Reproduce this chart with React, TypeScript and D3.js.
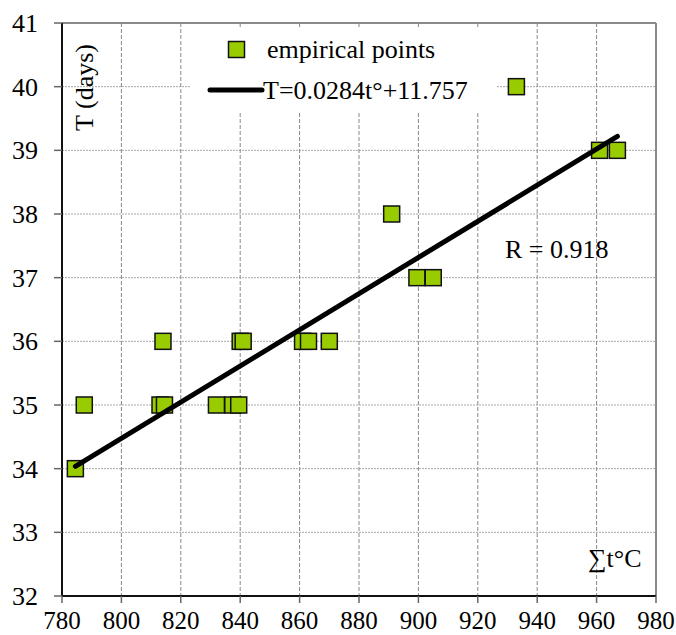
import React from 'react';
import * as d3 from 'd3';

// sum of temperatures (x) and duration in days (T)
const sumTemps = [784.5, 787.5, 813, 814.5, 814, 832, 837.5, 839.5, 840, 841, 861, 863, 870, 891, 899.5, 905, 933, 961, 967];
const days = [34, 35, 35, 35, 36, 35, 35, 35, 36, 36, 36, 36, 36, 38, 37, 37, 40, 39, 39];
const xTicks = [780, 800, 820, 840, 860, 880, 900, 920, 940, 960, 980];
const yTicks = [32, 33, 34, 35, 36, 37, 38, 39, 40, 41];
const slope = 0.0284;
const intercept = 11.757;

const W = 676;
const H = 635;
const FONT = "'Liberation Serif', 'Times New Roman', Times, serif";

function App() {
  const x = d3.scaleLinear().domain([780, 980]).range([62, 656]);
  const y = d3.scaleLinear().domain([32, 41]).range([596, 23]);

  const [x0, x1] = d3.extent(sumTemps) as [number, number];
  const trend = d3.line<number>()
    .x(v => x(v))
    .y(v => y(slope * v + intercept));

  const points = sumTemps.map((v, i) => ({ t: v, d: days[i] }));
  const sq = 16;

  return (
    <svg width={W} height={H} style={{ position: 'absolute', left: 0, top: 0, fontFamily: FONT }}>
      <rect width={W} height={H} fill="white" />

      {/* grid */}
      {yTicks.slice(1, -1).map(t => (
        <line key={'hy' + t} x1={x(780)} x2={x(980)} y1={y(t)} y2={y(t)}
          stroke="#a8a8a8" strokeWidth={1} strokeDasharray="2,1" />
      ))}
      {xTicks.slice(1, -1).map(t => (
        <line key={'vx' + t} x1={x(t)} x2={x(t)} y1={y(41)} y2={y(32)}
          stroke="#888" strokeWidth={1} strokeDasharray="4,2" />
      ))}

      {/* frame */}
      <line x1={x(780)} x2={x(980)} y1={y(41)} y2={y(41)} stroke="#8a8a8a" strokeWidth={2} />
      <line x1={x(980)} x2={x(980)} y1={y(41)} y2={y(32)} stroke="#8a8a8a" strokeWidth={2} />
      <line x1={x(780)} x2={x(780)} y1={y(41)} y2={y(32)} stroke="#111" strokeWidth={2} />
      <line x1={x(780)} x2={x(980)} y1={y(32)} y2={y(32)} stroke="#111" strokeWidth={2} />

      {/* ticks + labels */}
      {yTicks.map(t => (
        <g key={'yt' + t}>
          <line x1={x(780) - 8} x2={x(780)} y1={y(t)} y2={y(t)} stroke="#666" strokeWidth={1.5} />
          <text x={38} y={y(t)} dy="0.34em" textAnchor="end" fontSize={26} fill="#000">{t}</text>
        </g>
      ))}
      {xTicks.map(t => (
        <g key={'xt' + t}>
          <line x1={x(t)} x2={x(t)} y1={y(32)} y2={y(32) + 7} stroke="#666" strokeWidth={1.5} />
          <text x={x(t)} y={629} textAnchor="middle" fontSize={25} fill="#000">{t}</text>
        </g>
      ))}

      {/* axis titles */}
      <text transform="translate(93,87.5) rotate(-90)" textAnchor="middle" fontSize={26} fill="#000">T (days)</text>
      <text x={588} y={567} fontSize={26} fill="#000">∑t°C</text>
      <text x={505} y={258} fontSize={26} fill="#000">R = 0.918</text>

      {/* legend */}
      <rect x={191} y={28} width={306} height={84} fill="white" />
      <rect x={236.5 - sq / 2} y={49.5 - sq / 2} width={sq} height={sq} fill="#99cc00" stroke="#111" strokeWidth={1.5} />
      <text x={267} y={58} fontSize={26} fill="#000">empirical points</text>
      <line x1={210} x2={262} y1={90} y2={90} stroke="#000" strokeWidth={5} strokeLinecap="round" />
      <text x={263} y={99} fontSize={26} fill="#000">T=0.0284t°+11.757</text>

      {/* points */}
      {points.map((p, i) => (
        <rect key={'p' + i} x={x(p.t) - sq / 2} y={y(p.d) - sq / 2} width={sq} height={sq}
          fill="#99cc00" stroke="#111" strokeWidth={1.5} />
      ))}

      {/* regression line */}
      <path d={trend([x0, x1]) ?? ''} fill="none" stroke="#000" strokeWidth={5} strokeLinecap="round" />
    </svg>
  );
}

export default App;
